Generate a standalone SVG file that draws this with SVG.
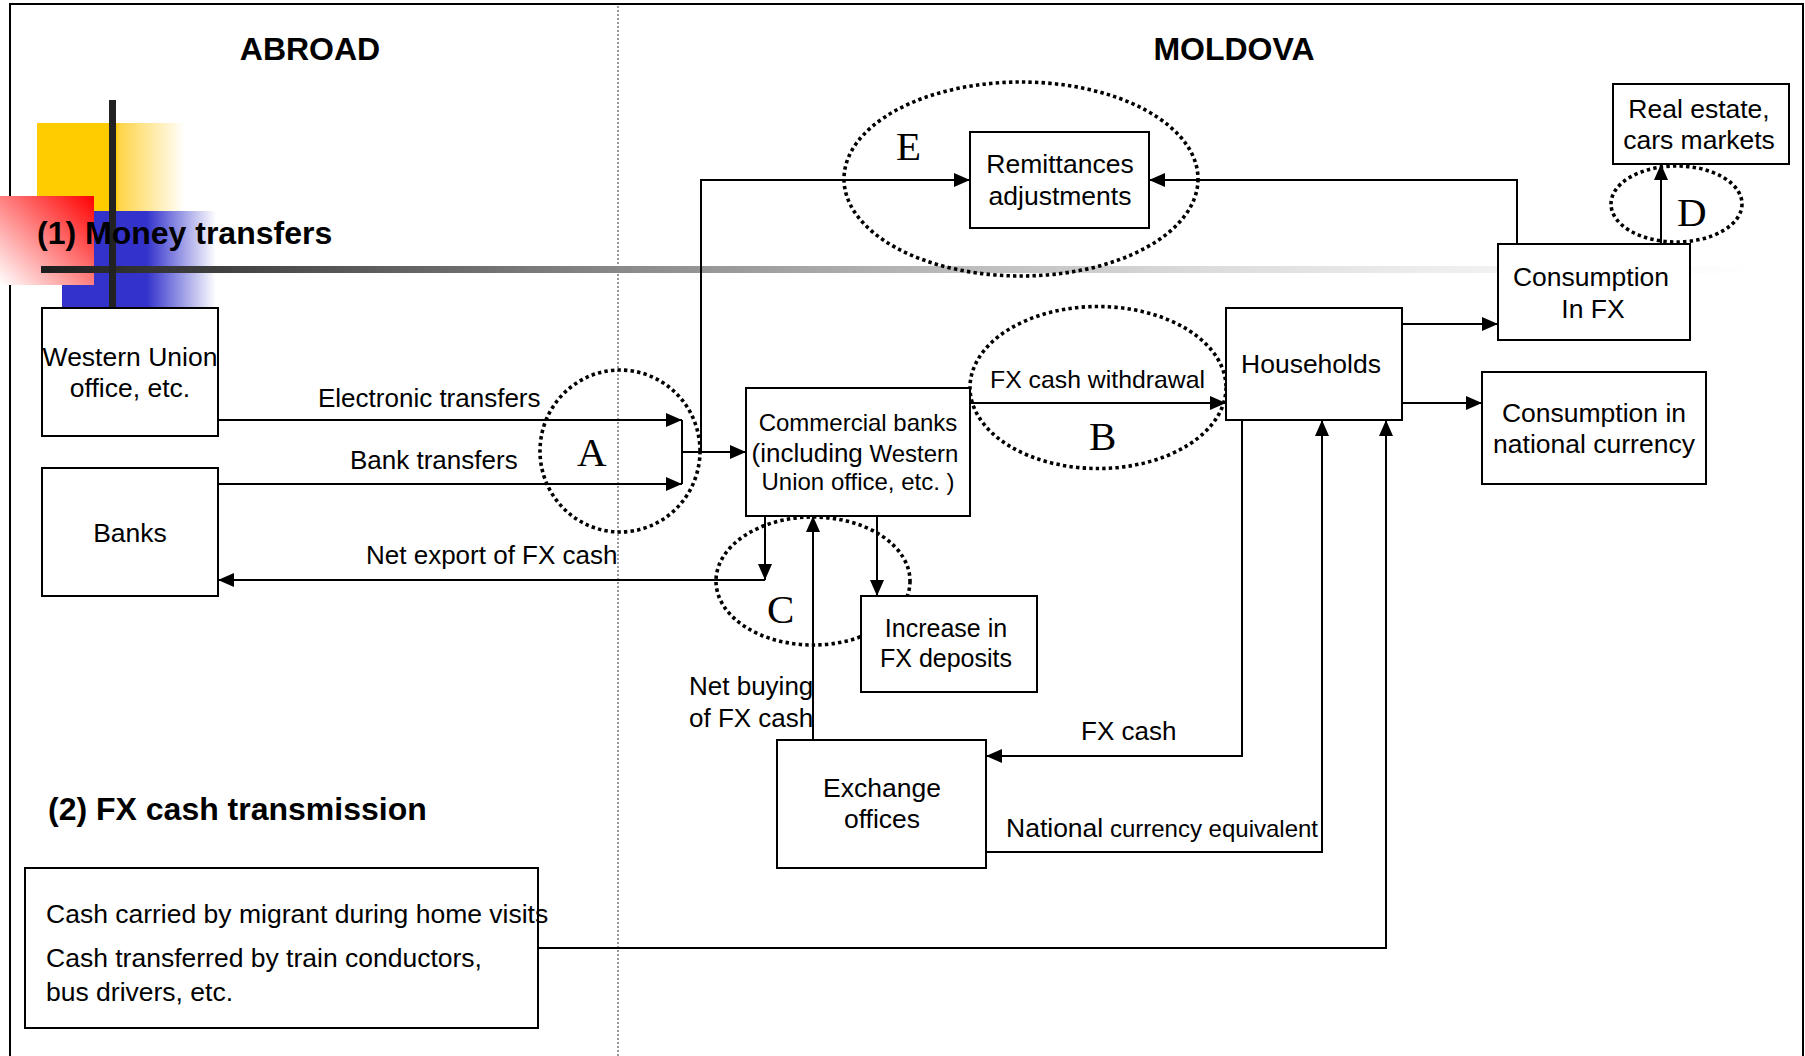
<svg xmlns="http://www.w3.org/2000/svg" width="1805" height="1056" viewBox="0 0 1805 1056">
<style>
.box{fill:#fff;stroke:#000;stroke-width:2}
.t{font-family:"Liberation Sans",Arial,sans-serif;font-size:26.5px;fill:#000}
.c{text-anchor:middle}
.h{font-weight:bold;font-size:32px}
.lbl{font-size:26px}
.sm{font-size:24px}
.ltr{font-family:"Liberation Serif","Times New Roman",serif;font-size:41px;fill:#000}
.con{fill:none;stroke:#000;stroke-width:2}
.arr{marker-end:url(#ah)}
.dot{fill:none;stroke:#000;stroke-width:3.6;stroke-dasharray:3.4 3.2}
</style>
<defs>
<marker id="ah" markerUnits="userSpaceOnUse" markerWidth="16" markerHeight="14" refX="16" refY="7" orient="auto">
<path d="M0,0 L16,7 L0,14 z" fill="#000"/>
</marker>
<linearGradient id="gy" x1="37" y1="0" x2="185" y2="0" gradientUnits="userSpaceOnUse">
<stop offset="0" stop-color="#FFCC00"/>
<stop offset="0.53" stop-color="#FFCC00"/>
<stop offset="0.56" stop-color="#FFD54A"/>
<stop offset="1" stop-color="#FFFFFF"/>
</linearGradient>
<linearGradient id="gb" x1="62" y1="0" x2="216" y2="0" gradientUnits="userSpaceOnUse">
<stop offset="0" stop-color="#3333CC"/>
<stop offset="0.55" stop-color="#3333CC"/>
<stop offset="1" stop-color="#FFFFFF"/>
</linearGradient>
<linearGradient id="gr" x1="1" y1="0" x2="0" y2="1">
<stop offset="0" stop-color="#FF0000"/>
<stop offset="1" stop-color="#FFFFFF"/>
</linearGradient>
<linearGradient id="gg" x1="41" y1="0" x2="1760" y2="0" gradientUnits="userSpaceOnUse">
<stop offset="0" stop-color="#1E1E1E"/>
<stop offset="0.15" stop-color="#505050"/>
<stop offset="0.34" stop-color="#8A8A8A"/>
<stop offset="0.5" stop-color="#B4B4B4"/>
<stop offset="0.68" stop-color="#DCDCDC"/>
<stop offset="0.85" stop-color="#F2F2F2"/>
<stop offset="1" stop-color="#FFFFFF"/>
</linearGradient>
</defs>

<g id="frame">
<path d="M10,1056 V4 H1803 V1056" fill="none" stroke="#000" stroke-width="2"/>
<line x1="618" y1="6" x2="618" y2="1056" stroke="#333" stroke-width="1" stroke-dasharray="2 2"/>
</g>

<g id="decoration">
<rect x="37" y="123" width="148" height="88" fill="url(#gy)"/>
<rect x="62" y="211" width="154" height="96" fill="url(#gb)"/>
<rect x="0" y="196" width="94" height="89" fill="url(#gr)"/>
<rect x="41" y="266" width="1719" height="7" fill="url(#gg)"/>
<rect x="109" y="100" width="7" height="208" fill="#222"/>
</g>

<g id="titles">
<text class="t h c" x="310" y="60">ABROAD</text>
<text class="t h c" x="1234" y="60">MOLDOVA</text>
<text class="t h" x="37" y="244">(1) Money transfers</text>
<text class="t h" x="48" y="820">(2) FX cash transmission</text>
</g>

<g id="zones">
<ellipse class="dot" cx="620" cy="451" rx="80" ry="81"/>
<ellipse class="dot" cx="1098" cy="387.5" rx="128" ry="81"/>
<ellipse class="dot" cx="813" cy="581" rx="97" ry="64"/>
<ellipse class="dot" cx="1676.5" cy="204" rx="65.5" ry="38"/>
<ellipse class="dot" cx="1021" cy="179" rx="177" ry="97"/>
<text class="ltr" x="577" y="466">A</text>
<text class="ltr" x="1089" y="450">B</text>
<text class="ltr" x="767" y="623">C</text>
<text class="ltr" x="1677" y="226">D</text>
<text class="ltr" x="896" y="160">E</text>
</g>

<g id="n-western-union">
<rect class="box" x="42" y="308" width="176" height="128"/>
<text class="t c" x="130" y="366">Western Union</text>
<text class="t c" x="130" y="397">office, etc.</text>
</g>
<g id="n-banks">
<rect class="box" x="42" y="468" width="176" height="128"/>
<text class="t c" x="130" y="542">Banks</text>
</g>
<g id="n-commercial-banks">
<rect class="box" x="746" y="388" width="224" height="128"/>
<text class="t c sm" x="858" y="431">Commercial banks</text>
<text class="t c sm" x="855" y="462"><tspan style="font-size:26px">(including</tspan> Western</text>
<text class="t c sm" x="858" y="490">Union office, etc. )</text>
</g>
<g id="n-remittances">
<rect class="box" x="970" y="132" width="179" height="96"/>
<text class="t c" x="1060" y="173">Remittances</text>
<text class="t c" x="1060" y="205">adjustments</text>
</g>
<g id="n-households">
<rect class="box" x="1226" y="308" width="176" height="112"/>
<text class="t c" x="1311" y="373">Households</text>
</g>
<g id="n-consumption-fx">
<rect class="box" x="1498" y="244" width="192" height="96"/>
<text class="t c" x="1591" y="286">Consumption</text>
<text class="t c" x="1593" y="318">In FX</text>
</g>
<g id="n-real-estate">
<rect class="box" x="1613" y="84" width="176" height="80"/>
<text class="t c" x="1699" y="118">Real estate,</text>
<text class="t c" x="1699" y="149">cars markets</text>
</g>
<g id="n-consumption-national">
<rect class="box" x="1482" y="372" width="224" height="112"/>
<text class="t c" x="1594" y="422">Consumption in</text>
<text class="t c" x="1594" y="453">national currency</text>
</g>
<g id="n-increase-deposits">
<rect class="box" x="861" y="596" width="176" height="96"/>
<text class="t c" x="946" y="637" style="font-size:25px">Increase in</text>
<text class="t c" x="946" y="667" style="font-size:25px">FX deposits</text>
</g>
<g id="n-exchange-offices">
<rect class="box" x="777" y="740" width="209" height="128"/>
<text class="t c" x="882" y="797">Exchange</text>
<text class="t c" x="882" y="828">offices</text>
</g>
<g id="n-cash-carried">
<rect class="box" x="25" y="868" width="513" height="160"/>
<text class="t" x="46" y="923">Cash carried by migrant during home visits</text>
<text class="t" x="46" y="967">Cash transferred by train conductors,</text>
<text class="t" x="46" y="1001">bus drivers, etc.</text>
</g>

<g id="connectors">
<path class="con arr" d="M218,420 H682"/>
<path class="con arr" d="M218,484 H682"/>
<path class="con" d="M682,420 V484"/>
<path class="con arr" d="M682,452 H746"/>
<path class="con arr" d="M701,452 V180 H970"/>
<path class="con arr" d="M765,516 V580"/>
<path class="con arr" d="M765,580 H218"/>
<path class="con arr" d="M877,516 V596"/>
<path class="con arr" d="M813,740 V516"/>
<path class="con arr" d="M970,403 H1226"/>
<path class="con arr" d="M1402,324 H1498"/>
<path class="con arr" d="M1402,403 H1482"/>
<path class="con arr" d="M1517,244 V180 H1149"/>
<path class="con arr" d="M1661,244 V164"/>
<path class="con arr" d="M1242,420 V756 H986"/>
<path class="con arr" d="M986,852 H1322 V420"/>
<path class="con arr" d="M538,948 H1386 V420"/>
<text class="t lbl" x="318" y="407">Electronic transfers</text>
<text class="t lbl" x="350" y="469">Bank transfers</text>
<text class="t lbl" x="366" y="564">Net export of FX cash</text>
<text class="t lbl" x="990" y="388" style="font-size:24.8px">FX cash withdrawal</text>
<text class="t lbl" x="689" y="695">Net buying</text>
<text class="t lbl" x="689" y="727">of FX cash</text>
<text class="t lbl" x="1081" y="740">FX cash</text>
<text class="t lbl" x="1006" y="837" style="font-size:26.5px">National<tspan style="font-size:24px"> currency equivalent</tspan></text>
</g>
</svg>
